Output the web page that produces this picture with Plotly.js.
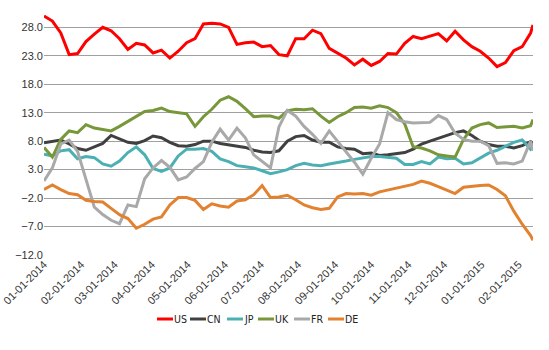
<!DOCTYPE html>
<html>
<head>
<meta charset="utf-8">
<script src="https://cdn.plot.ly/plotly-3.0.1.min.js"></script>
<style>html,body{margin:0;padding:0;background:#fff;}#chart{width:549px;height:350px;}</style>
</head>
<body>
<div id="chart"></div>
<script>
const dates = [
  "2014-01-01","2014-01-08","2014-01-15","2014-01-22","2014-01-29",
  "2014-02-05","2014-02-12","2014-02-19","2014-02-26",
  "2014-03-05","2014-03-12","2014-03-19","2014-03-26",
  "2014-04-02","2014-04-09","2014-04-16","2014-04-23","2014-04-30",
  "2014-05-07","2014-05-14","2014-05-21","2014-05-28",
  "2014-06-04","2014-06-11","2014-06-18","2014-06-25",
  "2014-07-02","2014-07-09","2014-07-16","2014-07-23","2014-07-30",
  "2014-08-06","2014-08-13","2014-08-20","2014-08-27",
  "2014-09-03","2014-09-10","2014-09-17","2014-09-24",
  "2014-10-01","2014-10-08","2014-10-15","2014-10-22","2014-10-29",
  "2014-11-05","2014-11-12","2014-11-19","2014-11-26",
  "2014-12-03","2014-12-10","2014-12-17","2014-12-24","2014-12-31",
  "2015-01-07","2015-01-14","2015-01-21","2015-01-28",
  "2015-02-04","2015-02-11","2015-02-13"
];
const US = [30.0,29.1,27.0,23.2,23.4,25.5,26.8,28.0,27.4,26.0,24.1,25.2,24.9,23.5,24.0,22.6,23.8,25.3,26.0,28.6,28.7,28.6,28.0,25.0,25.3,25.4,24.6,24.8,23.2,23.0,26.0,26.0,27.5,26.9,24.3,23.5,22.6,21.4,22.4,21.3,22.0,23.4,23.3,25.2,26.4,26.0,26.4,26.9,25.6,27.3,25.8,24.6,23.8,22.6,21.1,21.8,23.9,24.6,27.0,28.4];
const CN = [7.7,8.0,8.2,7.5,6.7,6.4,7.0,7.6,9.0,8.4,7.8,7.6,8.1,8.9,8.6,7.8,7.2,7.1,7.4,8.0,8.0,7.6,7.4,7.2,6.9,6.4,6.1,6.0,6.3,8.0,8.8,9.0,8.2,7.8,7.8,7.0,6.7,6.6,5.8,5.9,5.5,5.6,5.8,6.0,6.6,7.5,8.0,8.5,9.1,9.5,9.8,9.0,8.0,7.4,7.1,7.1,6.8,7.2,7.9,7.7];
const JP = [5.7,5.4,6.3,6.5,4.9,5.3,5.1,4.0,3.6,4.5,6.0,7.0,5.6,3.2,2.7,3.3,5.4,6.6,6.6,6.7,6.2,4.9,4.4,3.7,3.5,3.3,2.8,2.3,2.6,3.0,3.7,4.1,3.8,3.7,4.0,4.2,4.5,4.8,5.1,5.3,5.3,5.1,5.0,3.9,3.9,4.4,4.0,5.2,4.9,5.0,4.0,4.2,5.0,5.9,6.4,7.1,7.8,8.2,6.6,7.1];
const UK = [6.9,5.2,8.3,9.8,9.5,10.9,10.3,10.0,9.8,10.6,11.5,12.4,13.2,13.4,13.8,13.2,13.0,12.8,10.6,12.3,13.6,15.2,15.8,15.0,13.7,12.3,12.4,12.4,12.0,13.3,13.6,13.5,13.7,12.4,11.3,12.3,13.0,13.9,14.0,13.8,14.2,13.9,13.0,11.0,7.0,6.8,6.3,5.6,5.4,5.2,8.3,10.3,10.9,11.2,10.4,10.5,10.6,10.3,10.7,11.8];
const FR = [1.0,3.3,7.5,8.2,6.2,1.5,-3.6,-4.9,-5.9,-6.5,-3.2,-3.5,1.4,3.3,4.6,3.4,1.2,1.7,3.2,4.4,7.8,10.1,8.2,10.3,8.6,5.6,4.4,3.3,10.5,13.4,12.4,10.6,9.2,7.6,9.8,8.0,6.0,4.3,2.2,5.0,7.5,13.0,11.8,11.4,11.2,11.2,11.3,12.5,11.8,9.4,8.3,8.0,8.0,7.2,4.1,4.2,4.0,4.5,8.0,6.3];
const DE = [-0.5,0.3,-0.5,-1.2,-1.4,-2.4,-2.6,-2.7,-3.8,-4.9,-5.6,-7.3,-6.6,-5.7,-5.3,-3.2,-1.9,-1.9,-2.4,-4.0,-3.0,-3.4,-3.6,-2.5,-2.3,-1.4,0.2,-1.9,-1.8,-1.5,-2.3,-3.2,-3.7,-4.0,-3.8,-1.8,-1.2,-1.3,-1.2,-1.5,-0.9,-0.6,-0.3,0.1,0.4,1.0,0.6,0.0,-0.6,-1.2,-0.1,0.1,0.2,0.3,-0.5,-1.6,-4.3,-6.6,-8.6,-9.4];

const seriesNames = ["US","CN","JP","UK","FR","DE"];
const seriesData = [US, CN, JP, UK, FR, DE];
const seriesColors = ["#ff0000","#404040","#4bb0b3","#77973a","#a9a9a9","#e2812f"];

const traces = seriesNames.map((n, i) => ({
  type: "scatter", mode: "lines", name: n,
  x: dates, y: seriesData[i],
  line: {color: seriesColors[i], width: 3},
  showlegend: false
}));

// compact legend (layout geometry in px)
const W = 549, H = 350, ML = 44, MR = 16, MT = 0, MB = 95;
const PW = W - ML - MR, PH = H - MT - MB;
const legendStartPx = [157, 190, 227, 258, 294, 328];
const legendYpx = 319, legendLineLen = 16;
const px2x = p => (p - ML) / PW;
const py2y = p => (H - MB - p) / PH;
const shapes = [], annotations = [];
seriesNames.forEach((n, i) => {
  const x0 = legendStartPx[i];
  shapes.push({type: "line", xref: "paper", yref: "paper",
    x0: px2x(x0), x1: px2x(x0 + legendLineLen), y0: py2y(legendYpx), y1: py2y(legendYpx),
    line: {color: seriesColors[i], width: 3}});
  annotations.push({xref: "paper", yref: "paper", x: px2x(x0 + legendLineLen), y: py2y(legendYpx),
    xanchor: "left", yanchor: "middle", showarrow: false, text: n, xshift: -1,
    font: {family: "DejaVu Sans Condensed, sans-serif", size: 10.5, color: "#222"}});
});

const layout = {
  width: W, height: H,
  margin: {l: ML, r: MR, t: MT, b: MB},
  paper_bgcolor: "#fff", plot_bgcolor: "#fff",
  font: {family: "Liberation Sans, Arial, sans-serif", size: 11, color: "#333"},
  showlegend: false,
  shapes: shapes, annotations: annotations,
  xaxis: {type: "date", range: ["2014-01-01", "2015-02-13"],
          tick0: "2014-01-01", dtick: "M1", tickformat: "%m-%d-%Y",
          tickangle: -45, showgrid: false, zeroline: false, showline: false,
          ticks: "", tickfont: {size: 11, color: "#333"}},
  yaxis: {range: [-12, 32.8], tick0: -12, dtick: 5, tickformat: ".1f",
          showgrid: true, gridcolor: "#a0a0a0", gridwidth: 1,
          zeroline: false, showline: false, ticks: "",
          tickfont: {size: 11, color: "#333"}}
};

Plotly.newPlot("chart", traces, layout, {displayModeBar: false, staticPlot: true});
</script>
</body>
</html>
